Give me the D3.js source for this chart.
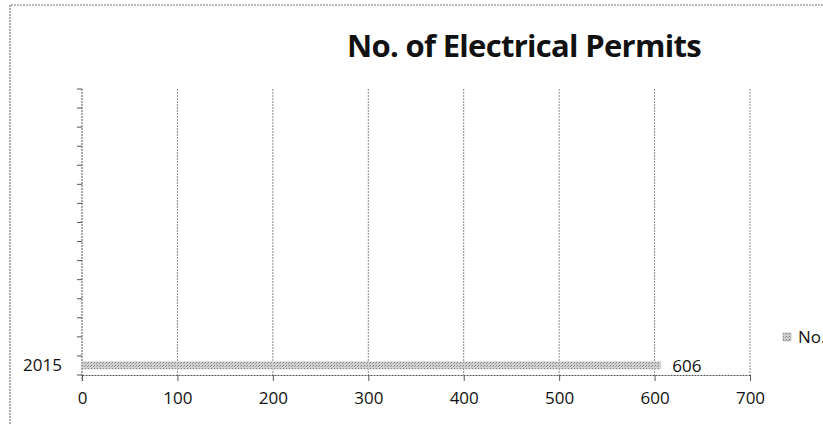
<!DOCTYPE html>
<html>
<head>
<script src="https://d3js.org/d3.v7.min.js"></script>
<style>
  body { margin: 0; background: #fff; }
  text { font-family: "Open Sans", "Noto Sans", sans-serif; fill: #111; }
</style>
</head>
<body>
<div id="chart"></div>
<script>
// categories on the y axis: only the bottom one carries a label / value
const categories = ["r1", "r2", "r3", "r4", "r5", "r6", "r7", "r8", "r9", "r10", "r11", "r12", "r13", "r14", "2015"];
const categoryLabels = ["", "", "", "", "", "", "", "", "", "", "", "", "", "", "2015"];
const permits = [null, null, null, null, null, null, null, null, null, null, null, null, null, null, 606];
const xTicks = [0, 100, 200, 300, 400, 500, 600, 700];
const seriesName = "No. of Electrical Permits";

const W = 823, H = 425;
const margin = {top: 89, right: 73, bottom: 50, left: 82};
const width = W - margin.left - margin.right;
const height = H - margin.top - margin.bottom;

const svg = d3.select("#chart").append("svg")
    .attr("width", W)
    .attr("height", H);

const defs = svg.append("defs");
const pat = defs.append("pattern")
    .attr("id", "dots")
    .attr("patternUnits", "userSpaceOnUse")
    .attr("width", 3).attr("height", 3);
pat.append("rect").attr("width", 3).attr("height", 3).attr("fill", "#d2d2d2");
pat.append("rect").attr("width", 1).attr("height", 1).attr("fill", "#7f7f7f");
pat.append("rect").attr("x", 2).attr("y", 1).attr("width", 1).attr("height", 1).attr("fill", "#9a9a9a");

// outer chart frame (scan, dotted)
svg.append("path")
    .attr("d", `M10,${H + 5} L10,5 L${W + 5},5`)
    .attr("fill", "none")
    .attr("stroke", "#777")
    .attr("stroke-width", 1.2)
    .attr("stroke-dasharray", "2,1");

svg.append("text")
    .attr("x", 524)
    .attr("y", 57)
    .attr("text-anchor", "middle")
    .style("font-size", "31px")
    .style("font-weight", "700")
    .style("letter-spacing", "-0.7px")
    .text(seriesName);

const g = svg.append("g")
    .attr("transform", `translate(${margin.left},${margin.top})`);

const x = d3.scaleLinear().domain([0, 700]).range([0, width]);
const y = d3.scaleBand().domain(categories).range([0, height]).paddingInner(0.63).paddingOuter(0.315);

// vertical gridlines
g.selectAll(".grid")
    .data(xTicks.slice(1))
    .join("line")
    .attr("x1", d => x(d)).attr("x2", d => x(d))
    .attr("y1", 0).attr("y2", height)
    .attr("stroke", "#8c8c8c")
    .attr("stroke-width", 1)
    .attr("stroke-dasharray", "2,1");

// y axis with ticks between categories
const yEdges = d3.scaleLinear().domain([0, categories.length]).range([0, height]);
g.append("line")
    .attr("x1", 0).attr("x2", 0).attr("y1", 0).attr("y2", height + 6)
    .attr("stroke", "#555").attr("stroke-dasharray", "2,1");
g.selectAll(".ytick")
    .data(d3.range(categories.length + 1))
    .join("line")
    .attr("x1", -5).attr("x2", 0)
    .attr("y1", d => yEdges(d)).attr("y2", d => yEdges(d))
    .attr("stroke", "#555");

g.selectAll(".ylab")
    .data(categories)
    .join("text")
    .attr("x", -20)
    .attr("y", d => y(d) + y.bandwidth() / 2)
    .attr("dy", "0.35em")
    .attr("text-anchor", "end")
    .style("font-size", "17px")
    .text((d, i) => categoryLabels[i]);

// x axis
const xAxis = g.append("g")
    .attr("transform", `translate(0,${height})`)
    .call(d3.axisBottom(x).tickValues(xTicks).tickSize(6).tickSizeOuter(0).tickPadding(11));
xAxis.select(".domain").attr("stroke", "#555").attr("stroke-dasharray", "2,1");
xAxis.selectAll(".tick line").attr("stroke", "#555");
xAxis.selectAll("text")
    .style("font-size", "17px")
    .style("font-family", "'Open Sans', sans-serif")
    .attr("fill", "#111");

// bars
const rows = categories.map((c, i) => ({cat: c, value: permits[i]})).filter(d => d.value != null);
g.selectAll(".bar")
    .data(rows)
    .join("rect")
    .attr("x", 0)
    .attr("y", d => y(d.cat))
    .attr("width", d => x(d.value))
    .attr("height", y.bandwidth())
    .attr("fill", "url(#dots)")
    .attr("stroke", "#b5b5b5")
    .attr("stroke-width", 0.5);

g.selectAll(".val")
    .data(rows)
    .join("text")
    .attr("x", d => x(d.value) + 12)
    .attr("y", d => y(d.cat) + y.bandwidth() / 2)
    .attr("dy", "0.4em")
    .style("font-size", "17px")
    .text(d => d.value);

// legend, cut at the right edge as in the original
const leg = svg.append("g").attr("transform", "translate(783,333)");
leg.append("rect").attr("width", 8).attr("height", 8).attr("fill", "url(#dots)").attr("stroke", "#999").attr("stroke-width", 0.5);
leg.append("text").attr("x", 15).attr("y", 4).attr("dy", "0.35em").style("font-size", "17px").text(seriesName);
</script>
</body>
</html>
